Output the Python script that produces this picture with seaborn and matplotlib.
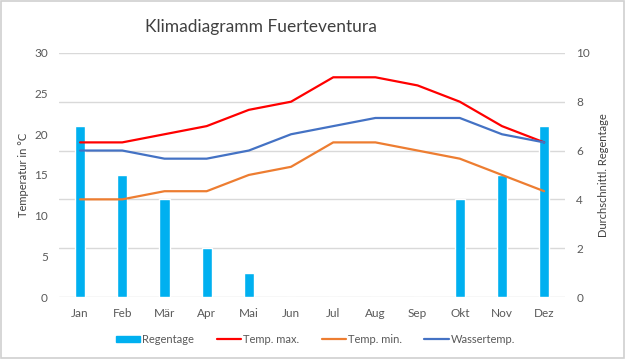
import pandas as pd
import seaborn as sns
import matplotlib.pyplot as plt
from matplotlib.patches import Rectangle, Patch
from matplotlib.lines import Line2D

monate = ['Jan', 'Feb', 'Mär', 'Apr', 'Mai', 'Jun', 'Jul', 'Aug', 'Sep', 'Okt', 'Nov', 'Dez']
regentage = [7, 5, 4, 2, 1, 0, 0, 0, 0, 4, 5, 7]
temp_max = [19, 19, 20, 21, 23, 24, 27, 27, 26, 24, 21, 19]
temp_min = [12, 12, 13, 13, 15, 16, 19, 19, 18, 17, 15, 13]
wassertemp = [18, 18, 17, 17, 18, 20, 21, 22, 22, 22, 20, 19]

df = pd.DataFrame({'Monat': monate, 'Regentage': regentage, 'Temp. max.': temp_max,
                   'Temp. min.': temp_min, 'Wassertemp.': wassertemp})

sns.set_theme(style='white')
plt.rcParams['font.family'] = ['Lato', 'DejaVu Sans']
grau = '#595959'

fig = plt.figure(figsize=(6.25, 3.59), dpi=100)
fig.patches.append(Rectangle((0.002, 0.003), 0.996, 0.994, transform=fig.transFigure,
                             fill=False, edgecolor='#d0d0d0', linewidth=1.2))

# Temperaturen links, Regentage rechts (Balken hinter den Linien)
ax = fig.add_axes([0.0944, 0.1727, 0.81, 0.68])
ax2 = ax.twinx()
ax.set_zorder(ax2.get_zorder() + 1)
ax.patch.set_visible(False)

sns.barplot(data=df, x='Monat', y='Regentage', color='#00B0F0', width=0.24,
            saturation=1, ax=ax2)
ax2.set_ylim(0, 10)
ax2.set_yticks([0, 2, 4, 6, 8, 10])
ax2.set_ylabel('Durchschnittl. Regentage', color='#404040', fontsize=8, labelpad=6)
ax2.grid(axis='y', color='#d9d9d9', linewidth=1)
ax2.set_axisbelow(True)

farben = {'Temp. max.': '#FF0000', 'Temp. min.': '#ED7D31', 'Wassertemp.': '#4472C4'}
for col, c in farben.items():
    sns.lineplot(x=range(12), y=df[col], color=c, linewidth=1.6, ax=ax)
ax.set_ylim(0, 30)
ax.set_yticks([0, 5, 10, 15, 20, 25, 30])
ax.set_ylabel('Temperatur in °C', color='#404040', fontsize=8, labelpad=4)
ax.set_xticks(range(12))
ax.set_xticklabels(monate)
ax.set_xlabel('')
ax.set_xlim(-0.5, 11.5)
ax2.set_xlim(-0.5, 11.5)

for a in (ax, ax2):
    for s in a.spines.values():
        s.set_visible(False)
    a.tick_params(axis='both', colors=grau, labelsize=8.5, length=0, pad=8)

fig.text(0.418, 0.925, 'Klimadiagramm Fuerteventura', ha='center', va='center',
         fontsize=12.5, color='#404040')

handles = [Patch(color='#00B0F0')] + [Line2D([0], [0], color=c, linewidth=1.6) for c in farben.values()]
labels = ['Regentage'] + list(farben.keys())
fig.legend(handles, labels, loc='center', bbox_to_anchor=(0.505, 0.055), ncol=4, frameon=False,
           fontsize=8, labelcolor=grau, handlelength=2.2, handleheight=0.5, handletextpad=0.2,
           columnspacing=2.0)

plt.savefig('out.png', dpi=100)
plt.close()
